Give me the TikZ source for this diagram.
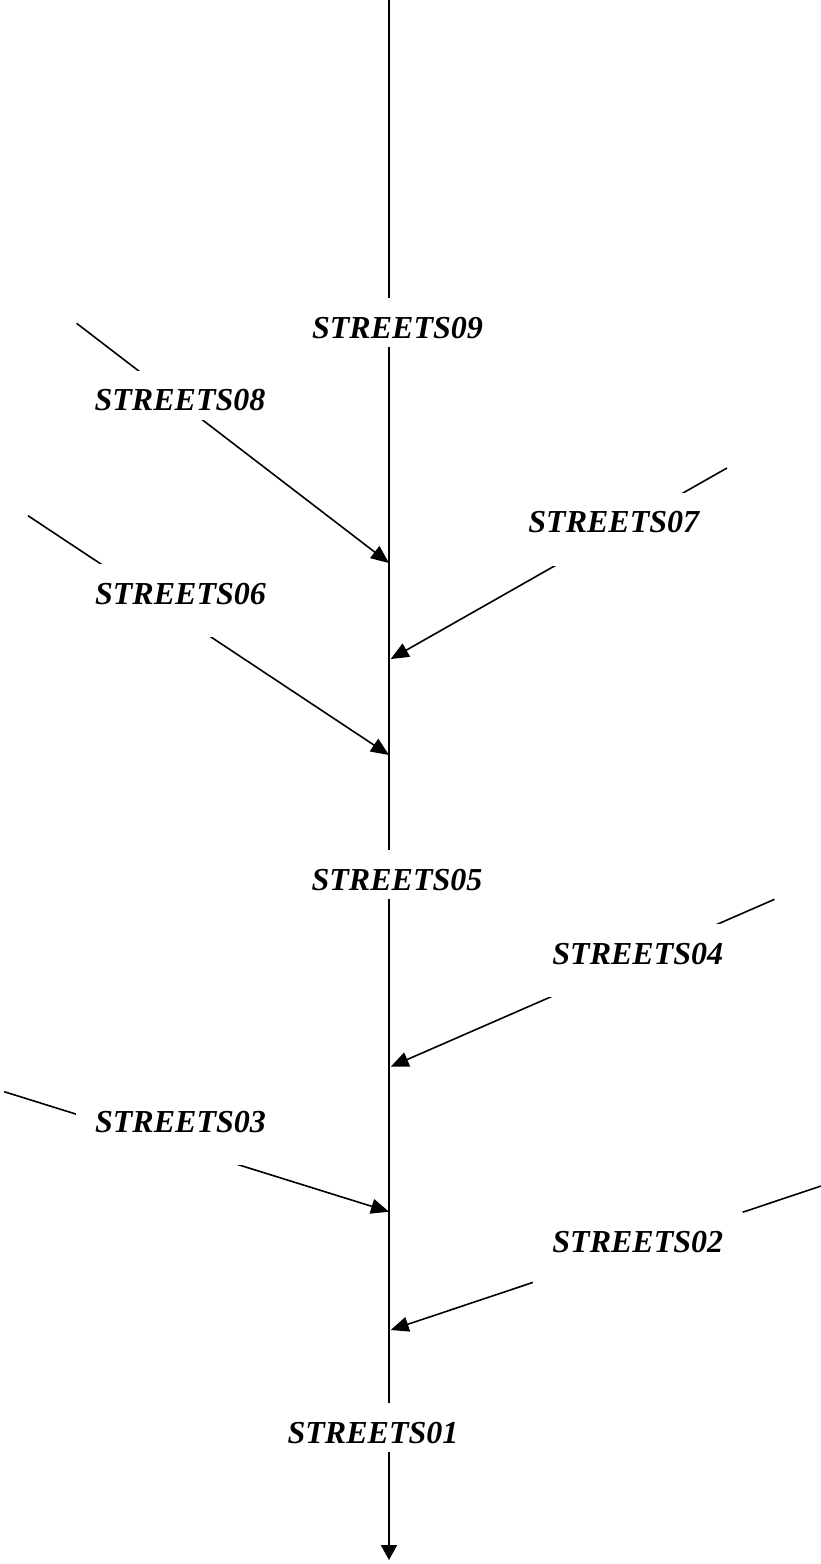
\documentclass[tikz,border=0pt]{standalone}
\usepackage{fontspec}
\setmainfont{Liberation Serif}
\usetikzlibrary{arrows.meta}
\tikzstyle{plan} = [x=1pt, y=-1pt]
\tikzstyle{mainRoad} = [line width=1.9pt, -{Triangle[length=15pt, width=16pt]}]
\tikzstyle{sideRoad} = [line width=1.6pt, -{Triangle[length=18pt, width=15pt]}]
\tikzstyle{streetText} = [font=\fontsize{32}{38}\selectfont\bfseries\itshape, fill=white, inner xsep=19.5pt, inner ysep=0pt, text height=40pt, anchor=base]
\tikzstyle{shortBox} = [streetText, text depth=9pt]
\tikzstyle{tallBox} = [streetText, text depth=33pt]
\newcommand{\sideStreet}[5]{
  \coordinate (s#1from) at (#2);
  \coordinate (s#1to) at (#3);
  \draw [sideRoad] (s#1from) -- (s#1to);
  \node [#4] (s#1) at (#5) {STREETS#1};
}

\begin{document}
\begin{tikzpicture}[plan]
    \useasboundingbox (0,0) rectangle (821,1564);
    % main road
    \coordinate (roadTop) at (389,0);
    \coordinate (roadEnd) at (389,1560);
    \draw [mainRoad] (roadTop) -- (roadEnd);
    % side streets
    \sideStreet{08}{76.6,323.3}{389,563}{shortBox}{180,410.5}
    \sideStreet{07}{727,468}{390.7,659}{tallBox}{613.8,532.7}
    \sideStreet{06}{28,515.7}{389,755}{tallBox}{180.5,604}
    \sideStreet{04}{774.5,899.3}{390.7,1066.7}{tallBox}{637.8,964}
    \sideStreet{03}{4.2,1091.7}{389,1211.7}{tallBox}{180.5,1132.3}
    \sideStreet{02}{821,1186}{390.7,1330}{tallBox}{637.8,1252.3}
    % labels on the main road
    \node [shortBox] (s09) at (397.5,338) {STREETS09};
    \node [shortBox] (s05) at (397,890) {STREETS05};
    \node [shortBox] (s01) at (373,1443.3) {STREETS01};
\end{tikzpicture}
\end{document}
